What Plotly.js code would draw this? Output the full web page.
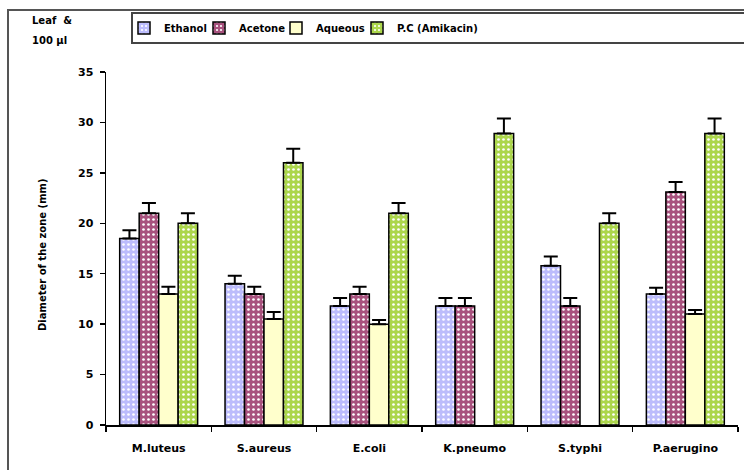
<!DOCTYPE html>
<html>
<head>
<meta charset="utf-8">
<script src="https://cdn.plot.ly/plotly-3.0.1.min.js"></script>
<style>html,body{margin:0;padding:0;background:#fff;}</style>
</head>
<body>
<div id="chart" style="width:744px;height:470px;"></div>
<script>
const categories = ["M.luteus", "S.aureus", "E.coli", "K.pneumo", "S.typhi", "P.aerugino"];
const seriesNames = ["Ethanol", "Acetone", "Aqueous", "P.C (Amikacin)"];
const ethanol = [18.5, 14.0, 11.8, 11.8, 15.8, 13.0];
const acetone = [21.0, 13.0, 13.0, 11.8, 11.8, 23.1];
const aqueous = [13.0, 10.5, 10.0, null, null, 11.0];
const amikacin = [20.0, 26.0, 21.0, 28.9, 20.0, 28.9];
const ethanolErr = [0.8, 0.8, 0.8, 0.8, 0.9, 0.6];
const acetoneErr = [1.0, 0.7, 0.7, 0.8, 0.8, 1.0];
const aqueousErr = [0.7, 0.7, 0.4, 0, 0, 0.4];
const amikacinErr = [1.0, 1.4, 1.0, 1.5, 1.0, 1.5];
const yTicks = [0, 5, 10, 15, 20, 25, 30, 35];

const colors = ["#bcbcfc", "#a8527e", "#ffffcc", "#acd64c"];
const values = [ethanol, acetone, aqueous, amikacin];
const errs = [ethanolErr, acetoneErr, aqueousErr, amikacinErr];
const FONT = "DejaVu Sans, Arial, sans-serif";
const legendIds = ["legend", "legend2", "legend3", "legend4"];

const traces = values.map((v, i) => ({
  type: "bar",
  name: seriesNames[i],
  legend: legendIds[i],
  x: categories,
  y: v,
  marker: {
    color: colors[i],
    line: {color: "#000", width: 1.5},
    pattern: i === 2 ? {shape: ""} : {shape: ".", fgcolor: "#ffffff", bgcolor: colors[i], size: 5, solidity: 0.22}
  },
  error_y: {
    type: "data", symmetric: false,
    array: errs[i], arrayminus: errs[i].map(() => 0),
    color: "#000", thickness: 2, width: 7
  }
}));

// pixel helpers for paper coords
const L = 106, R = 738, T = 72, B = 425;
const px = x => (x - L) / (R - L);
const py = y => (B - y) / (B - T);

const legendSymbolX = [143, 218, 295, 376];
const mkLegend = (sx) => ({
  orientation: "h", x: px(sx - 19), y: py(28), xanchor: "left", yanchor: "middle",
  bgcolor: "rgba(0,0,0,0)", borderwidth: 0, itemwidth: 30,
  font: {family: FONT, size: 10, color: "#000", weight: "bold"}
});

const layout = {
  width: 744, height: 470,
  margin: {l: L, r: 744 - R, t: T, b: 470 - B},
  paper_bgcolor: "#fff", plot_bgcolor: "#fff",
  barmode: "group", bargap: 0.26, bargroupgap: 0,
  font: {family: FONT, size: 11, color: "#000", weight: "bold"},
  showlegend: true,
  legend: mkLegend(legendSymbolX[0]),
  legend2: mkLegend(legendSymbolX[1]),
  legend3: mkLegend(legendSymbolX[2]),
  legend4: mkLegend(legendSymbolX[3]),
  xaxis: {
    type: "category", showline: true, linecolor: "#000", linewidth: 1.5,
    ticks: "outside", tickson: "boundaries", ticklen: 5, tickcolor: "#000", tickwidth: 1.5,
    showgrid: false, zeroline: false, ticklabelstandoff: 12,
    tickfont: {family: FONT, size: 11, color: "#000", weight: "bold"}
  },
  yaxis: {
    range: [0, 35], tickvals: yTicks, ticktext: yTicks.map(String),
    showline: true, linecolor: "#000", linewidth: 1.5,
    ticks: "outside", ticklen: 5, tickcolor: "#000", tickwidth: 1.5,
    showgrid: false, zeroline: false, ticklabelstandoff: 4,
    tickfont: {family: FONT, size: 11, color: "#000", weight: "bold"}
  },
  shapes: [
    {type: "rect", xref: "paper", yref: "paper", x0: px(8), x1: px(800), y0: py(520), y1: py(10),
     line: {color: "#555", width: 2}, fillcolor: "rgba(0,0,0,0)", layer: "below"},
    {type: "rect", xref: "paper", yref: "paper", x0: px(132), x1: px(800), y0: py(43), y1: py(13),
     line: {color: "#444", width: 2}, fillcolor: "rgba(0,0,0,0)", layer: "below"}
  ],
  annotations: [
    {xref: "paper", yref: "paper", x: px(30), y: py(20), xanchor: "left", yanchor: "middle",
     text: "Leaf  &", showarrow: false, font: {family: FONT, size: 10, color: "#000", weight: "bold"}},
    {xref: "paper", yref: "paper", x: px(30), y: py(41), xanchor: "left", yanchor: "middle",
     text: "100 µl", showarrow: false, font: {family: FONT, size: 10, color: "#000", weight: "bold"}},
    {xref: "paper", yref: "paper", x: px(43), y: py(255), xanchor: "center", yanchor: "middle",
     text: "Diameter of the zone (mm)", textangle: -90, showarrow: false,
     font: {family: FONT, size: 10, color: "#000", weight: "bold"}}
  ]
};

Plotly.newPlot("chart", traces, layout, {displayModeBar: false, staticPlot: true});
</script>
</body>
</html>
